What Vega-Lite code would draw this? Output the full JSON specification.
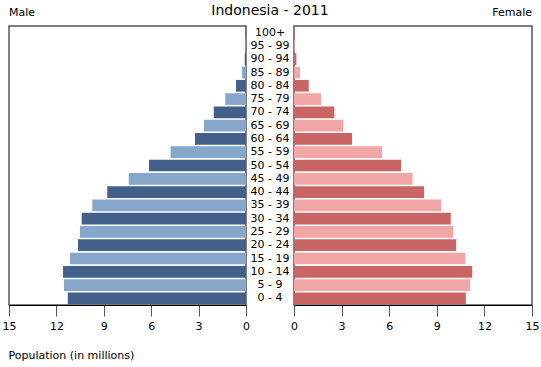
{
  "$schema": "https://vega.github.io/schema/vega-lite/v6.json",
  "padding": {"left": 1, "top": 4, "right": 3, "bottom": 2},
  "spacing": 0,
  "bounds": "flush",
  "config": {
    "font": "DejaVu Sans",
    "view": {"stroke": "#555", "strokeWidth": 1.5},
    "concat": {"spacing": 0},
    "axis": {"labelFont": "DejaVu Sans", "titleFont": "DejaVu Sans", "labelFlush": false}
  },
  "data": {
    "values": [
      {"age": "0 - 4", "male": 11.28, "female": 10.83},
      {"age": "5 - 9", "male": 11.52, "female": 11.10},
      {"age": "10 - 14", "male": 11.58, "female": 11.23},
      {"age": "15 - 19", "male": 11.14, "female": 10.79},
      {"age": "20 - 24", "male": 10.63, "female": 10.22},
      {"age": "25 - 29", "male": 10.51, "female": 10.03},
      {"age": "30 - 34", "male": 10.40, "female": 9.88},
      {"age": "35 - 39", "male": 9.73, "female": 9.27},
      {"age": "40 - 44", "male": 8.78, "female": 8.20},
      {"age": "45 - 49", "male": 7.42, "female": 7.47},
      {"age": "50 - 54", "male": 6.14, "female": 6.75},
      {"age": "55 - 59", "male": 4.77, "female": 5.55},
      {"age": "60 - 64", "male": 3.23, "female": 3.66},
      {"age": "65 - 69", "male": 2.66, "female": 3.11},
      {"age": "70 - 74", "male": 2.04, "female": 2.54},
      {"age": "75 - 79", "male": 1.31, "female": 1.70},
      {"age": "80 - 84", "male": 0.63, "female": 0.93},
      {"age": "85 - 89", "male": 0.25, "female": 0.38},
      {"age": "90 - 94", "male": 0.08, "female": 0.15},
      {"age": "95 - 99", "male": 0.03, "female": 0.05},
      {"age": "100+", "male": 0.02, "female": 0.03}
    ]
  },
  "hconcat": [
    {
      "width": 237,
      "height": 279,
      "title": {"text": "Male", "anchor": "start", "frame": "group", "fontSize": 11, "fontWeight": "normal", "font": "DejaVu Sans", "offset": 8, "color": "#000"},
      "mark": {"type": "bar"},
      "encoding": {
        "y": {"field": "age", "type": "nominal", "axis": null,
              "sort": ["100+","95 - 99","90 - 94","85 - 89","80 - 84","75 - 79","70 - 74","65 - 69","60 - 64","55 - 59","50 - 54","45 - 49","40 - 44","35 - 39","30 - 34","25 - 29","20 - 24","15 - 19","10 - 14","5 - 9","0 - 4"],
              "scale": {"paddingInner": 0.12, "paddingOuter": 0.06}},
        "x": {"field": "male", "type": "quantitative",
              "scale": {"domain": [0, 15], "reverse": true, "nice": false},
              "axis": {"values": [0, 3, 6, 9, 12, 15], "grid": false, "tickSize": 11, "labelFontSize": 11, "labelColor": "#000", "domainColor": "#000", "tickColor": "#555", "labelPadding": 4,
                       "title": "Population (in millions)", "titleFontSize": 11, "titleFontWeight": "normal", "titleX": -1, "titleY": 53, "titleAlign": "left", "titleBaseline": "alphabetic", "titleAnchor": null, "titleColor": "#000"}},
        "color": {"field": "age", "type": "nominal", "legend": null,
                  "scale": {"domain": ["0 - 4","5 - 9","10 - 14","15 - 19","20 - 24","25 - 29","30 - 34","35 - 39","40 - 44","45 - 49","50 - 54","55 - 59","60 - 64","65 - 69","70 - 74","75 - 79","80 - 84","85 - 89","90 - 94","95 - 99","100+"],
                            "range": ["#43608a","#87a6cc","#43608a","#87a6cc","#43608a","#87a6cc","#43608a","#87a6cc","#43608a","#87a6cc","#43608a","#87a6cc","#43608a","#87a6cc","#43608a","#87a6cc","#43608a","#87a6cc","#43608a","#87a6cc","#43608a"]}}
      }
    },
    {
      "width": 48,
      "height": 279,
      "view": {"stroke": null},
      "title": {"text": "Indonesia - 2011", "anchor": "middle", "frame": "group", "fontSize": 14, "fontWeight": "normal", "font": "DejaVu Sans", "offset": 8, "color": "#000"},
      "mark": {"type": "text", "fontSize": 11, "font": "DejaVu Sans", "color": "#000"},
      "encoding": {
        "y": {"field": "age", "type": "nominal", "axis": null,
              "sort": ["100+","95 - 99","90 - 94","85 - 89","80 - 84","75 - 79","70 - 74","65 - 69","60 - 64","55 - 59","50 - 54","45 - 49","40 - 44","35 - 39","30 - 34","25 - 29","20 - 24","15 - 19","10 - 14","5 - 9","0 - 4"],
              "scale": {"paddingInner": 0.12, "paddingOuter": 0.06}},
        "text": {"field": "age"}
      }
    },
    {
      "width": 238,
      "height": 279,
      "title": {"text": "Female", "anchor": "end", "frame": "group", "fontSize": 11, "fontWeight": "normal", "font": "DejaVu Sans", "offset": 8, "color": "#000"},
      "mark": {"type": "bar"},
      "encoding": {
        "y": {"field": "age", "type": "nominal", "axis": null,
              "sort": ["100+","95 - 99","90 - 94","85 - 89","80 - 84","75 - 79","70 - 74","65 - 69","60 - 64","55 - 59","50 - 54","45 - 49","40 - 44","35 - 39","30 - 34","25 - 29","20 - 24","15 - 19","10 - 14","5 - 9","0 - 4"],
              "scale": {"paddingInner": 0.12, "paddingOuter": 0.06}},
        "x": {"field": "female", "type": "quantitative",
              "scale": {"domain": [0, 15], "nice": false},
              "axis": {"values": [0, 3, 6, 9, 12, 15], "grid": false, "tickSize": 11, "labelFontSize": 11, "labelColor": "#000", "domainColor": "#000", "tickColor": "#555", "labelPadding": 4, "title": null}},
        "color": {"field": "age", "type": "nominal", "legend": null,
                  "scale": {"domain": ["0 - 4","5 - 9","10 - 14","15 - 19","20 - 24","25 - 29","30 - 34","35 - 39","40 - 44","45 - 49","50 - 54","55 - 59","60 - 64","65 - 69","70 - 74","75 - 79","80 - 84","85 - 89","90 - 94","95 - 99","100+"],
                            "range": ["#c96565","#f2a6a6","#c96565","#f2a6a6","#c96565","#f2a6a6","#c96565","#f2a6a6","#c96565","#f2a6a6","#c96565","#f2a6a6","#c96565","#f2a6a6","#c96565","#f2a6a6","#c96565","#f2a6a6","#c96565","#f2a6a6","#c96565"]}}
      }
    }
  ],
  "resolve": {"scale": {"color": "independent", "x": "independent"}}
}
